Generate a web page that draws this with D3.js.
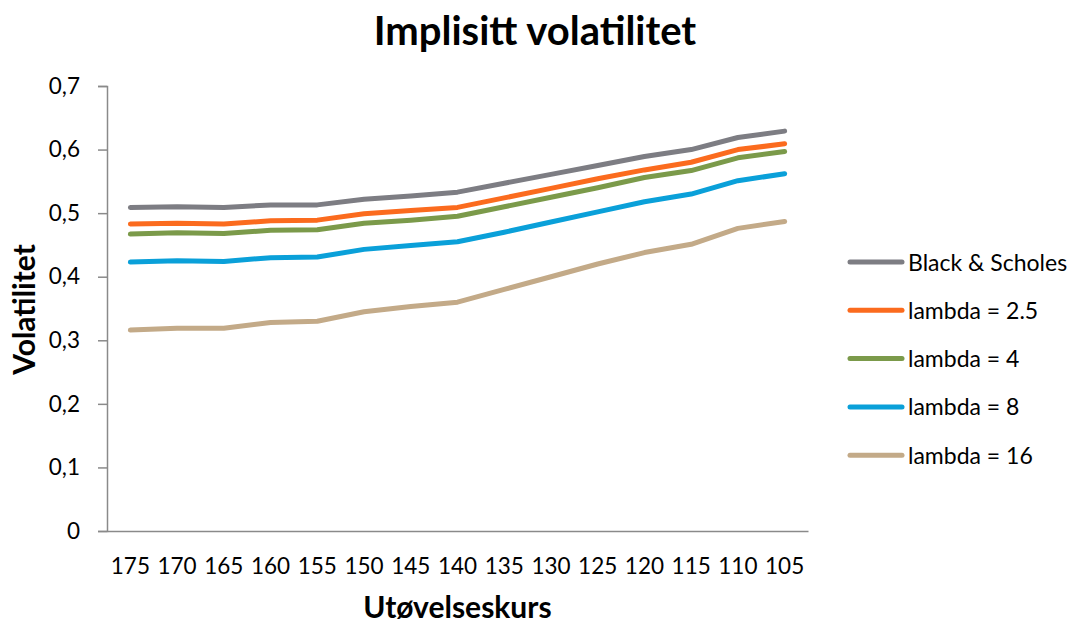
<!DOCTYPE html>
<html>
<head>
<meta charset="utf-8">
<script src="https://cdn.jsdelivr.net/npm/d3@7"></script>
<style>
  html, body { margin: 0; padding: 0; background: #fff; }
  svg { display: block; font-family: Lato, "Open Sans", sans-serif; }
</style>
</head>
<body>
<svg id="chart" width="1075" height="623"></svg>
<script>
// Strike prices (Utøvelseskurs), high to low
const strikes = ["175","170","165","160","155","150","145","140","135","130","125","120","115","110","105"];

// Implied volatility per model
const blackScholes = [0.509,0.510,0.509,0.513,0.513,0.522,0.527,0.533,0.547,0.561,0.575,0.589,0.600,0.619,0.629];
const lambda2_5    = [0.483,0.484,0.483,0.488,0.489,0.499,0.504,0.509,0.524,0.539,0.554,0.568,0.580,0.600,0.609];
const lambda4      = [0.467,0.469,0.468,0.473,0.474,0.484,0.489,0.495,0.510,0.525,0.540,0.556,0.567,0.587,0.597];
const lambda8      = [0.423,0.425,0.424,0.430,0.431,0.443,0.449,0.455,0.470,0.486,0.502,0.518,0.530,0.551,0.562];
const lambda16     = [0.316,0.319,0.319,0.328,0.330,0.345,0.353,0.360,0.380,0.400,0.420,0.438,0.451,0.476,0.487];

const seriesNames = ["Black & Scholes","lambda = 2.5","lambda = 4","lambda = 8","lambda = 16"];
const seriesValues = [blackScholes, lambda2_5, lambda4, lambda8, lambda16];
const seriesColors = ["#7d7d83","#fb6b1e","#7b9a4a","#0aa0d9","#c3aa88"];

const yTicks = [0,0.1,0.2,0.3,0.4,0.5,0.6,0.7];

const svg = d3.select("#chart");
const plot = { left: 107, right: 808, top: 86, bottom: 531 };

const x = d3.scaleBand().domain(strikes).range([plot.left, plot.right]);
const y = d3.scaleLinear().domain([0, 0.7]).range([plot.bottom, plot.top]);

const axisColor = "#8a8a8a";
const tickFont = 22.5;
const legendFont = 23;
const lineWidth = 5;

// Y axis
const yAxis = svg.append("g")
  .attr("transform", `translate(${plot.left},0)`)
  .call(d3.axisLeft(y).tickValues(yTicks).tickSize(9).tickPadding(18)
    .tickFormat(d => d === 0 ? "0" : d3.format(".1f")(d).replace(".", ",")));
yAxis.select(".domain").attr("stroke", axisColor).attr("stroke-width", 1.5);
yAxis.selectAll(".tick line").attr("stroke", axisColor).attr("stroke-width", 1.5);
yAxis.selectAll(".tick text").attr("font-size", tickFont).attr("fill", "#000")
  .attr("font-family", "Lato, 'Open Sans', sans-serif");

// X axis
const xAxis = svg.append("g")
  .attr("transform", `translate(0,${plot.bottom})`)
  .call(d3.axisBottom(x).tickSize(0).tickPadding(25));
xAxis.select(".domain").attr("stroke", axisColor).attr("stroke-width", 1.5);
xAxis.selectAll(".tick text").attr("font-size", tickFont).attr("fill", "#000")
  .attr("font-family", "Lato, 'Open Sans', sans-serif")
  .attr("dy", null).attr("y", 43);

// Lines
const line = d3.line()
  .x((d, i) => x(strikes[i]) + x.bandwidth() / 2)
  .y(d => y(d));

svg.append("g").selectAll("path")
  .data(seriesValues)
  .join("path")
  .attr("d", line)
  .attr("fill", "none")
  .attr("stroke", (d, i) => seriesColors[i])
  .attr("stroke-width", lineWidth)
  .attr("stroke-linecap", "round")
  .attr("stroke-linejoin", "round");

// Title
svg.append("text")
  .attr("x", 535).attr("y", 45)
  .attr("text-anchor", "middle")
  .attr("font-size", 40).attr("font-weight", "bold")
  .text("Implisitt volatilitet");

// Axis titles
svg.append("text")
  .attr("x", (plot.left + plot.right) / 2).attr("y", 618)
  .attr("text-anchor", "middle")
  .attr("font-size", 30).attr("font-weight", "bold")
  .text("Utøvelseskurs");

svg.append("text")
  .attr("transform", `translate(35,${(plot.top + plot.bottom) / 2 + 1}) rotate(-90)`)
  .attr("text-anchor", "middle")
  .attr("font-size", 30).attr("font-weight", "bold")
  .text("Volatilitet");

// Legend
const legend = svg.append("g").attr("transform", "translate(848,262)");
const rows = legend.selectAll("g")
  .data(seriesNames)
  .join("g")
  .attr("transform", (d, i) => `translate(0,${i * 48.3})`);
rows.append("line")
  .attr("x1", 2).attr("x2", 54).attr("y1", 0).attr("y2", 0)
  .attr("stroke", (d, i) => seriesColors[i])
  .attr("stroke-width", lineWidth)
  .attr("stroke-linecap", "round");
rows.append("text")
  .attr("x", 60).attr("y", 8.5)
  .attr("font-size", legendFont)
  .text(d => d);
</script>
</body>
</html>
